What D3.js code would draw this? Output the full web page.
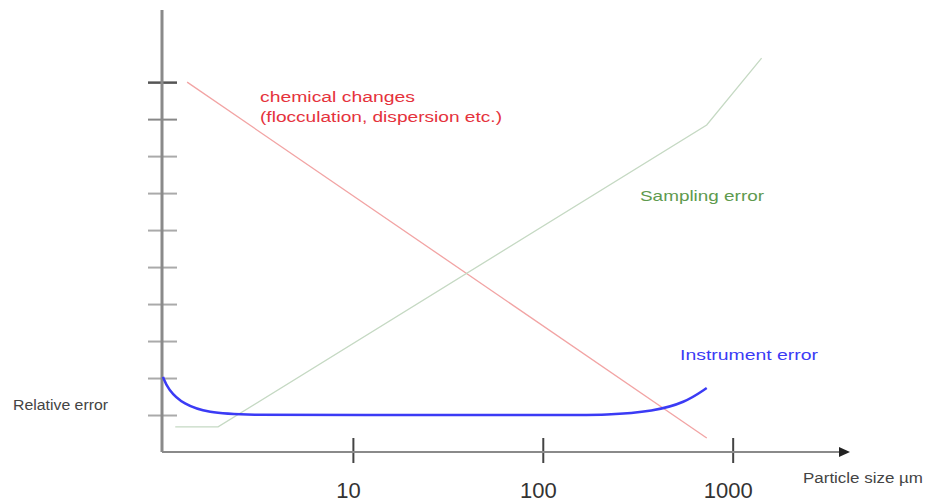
<!DOCTYPE html>
<html>
<head>
<meta charset="utf-8">
<script src="https://cdn.jsdelivr.net/npm/d3@7"></script>
<style>
  body { margin: 0; background: #fff; }
  text { font-family: "Liberation Sans", Arial, sans-serif; }
</style>
</head>
<body>
<svg id="chart"></svg>
<script>
// particle size (µm, log axis) / relative error (arbitrary units)
const xTicks = [10, 100, 1000];
const yTicks = [1, 2, 3, 4, 5, 6, 7, 8, 9, 10];

const chemicalX = [1.34, 730];
const chemicalY = [10, 0.38];

const samplingX = [1.16, 1.95, 730, 1420];
const samplingY = [0.68, 0.68, 8.84, 10.65];

const instrumentX = [1, 1.06, 1.28, 1.75, 2.6, 10, 100, 230, 380, 560, 730];
const instrumentY = [2.03, 1.7, 1.28, 1.06, 1.0, 1.0, 1.0, 1.0, 1.1, 1.33, 1.73];

const toPoints = (xs, ys) => xs.map((x, i) => [x, ys[i]]);

const w = 926;
const h = 504;

const xScale = d3.scaleLog()
  .domain([1, 4000])
  .range([163, 847]);

const yScale = d3.scaleLinear()
  .domain([0, 11.95])
  .range([452, 10]);

const svg = d3.select("#chart")
  .attr("width", w)
  .attr("height", h);

// y axis
const yAxis = d3.axisLeft(yScale)
  .tickValues(yTicks)
  .tickSize(14)
  .tickFormat("");
const gy = svg.append("g")
  .attr("transform", "translate(162,0)")
  .call(yAxis);
gy.select(".domain").remove();
gy.selectAll(".tick line")
  .attr("x2", 15)
  .attr("x1", -14)
  .attr("stroke", (d) => d === 10 ? "#555" : (d === 9 ? "#888" : "#aaa"))
  .attr("stroke-width", (d) => d === 10 ? 2.5 : 2);
svg.append("line")
  .attr("x1", 162).attr("x2", 162)
  .attr("y1", yScale.range()[1]).attr("y2", yScale(0))
  .attr("stroke", "#8a8a8a")
  .attr("stroke-width", 3);

// x axis
const xAxis = d3.axisBottom(xScale)
  .tickValues(xTicks)
  .tickSize(11)
  .tickFormat(d3.format("d"));
const gx = svg.append("g")
  .attr("transform", "translate(0," + yScale(0) + ")")
  .call(xAxis);
gx.select(".domain").remove();
gx.selectAll(".tick line")
  .attr("y1", -14)
  .attr("stroke", "#444")
  .attr("stroke-width", 2);
gx.selectAll(".tick text")
  .attr("y", 46)
  .attr("dy", 0)
  .attr("dx", -5)
  .attr("fill", "#333")
  .style("font-size", "22px")
  .style("font-family", "'Liberation Sans', Arial, sans-serif");
svg.append("line")
  .attr("x1", 162).attr("x2", xScale.range()[1] - 6)
  .attr("y1", yScale(0)).attr("y2", yScale(0))
  .attr("stroke", "#8a8a8a")
  .attr("stroke-width", 2);
svg.append("path")
  .attr("d", `M${xScale.range()[1] + 3},${yScale(0)} l-11,-5 l0,10 z`)
  .attr("fill", "#222");

const line = d3.line()
  .x((d) => xScale(d[0]))
  .y((d) => yScale(d[1]));

svg.append("path")
  .attr("d", line(toPoints(chemicalX, chemicalY)))
  .attr("fill", "none")
  .attr("stroke", "#f2a4a4")
  .attr("stroke-width", 1.3);

svg.append("path")
  .attr("d", line(toPoints(samplingX, samplingY)))
  .attr("fill", "none")
  .attr("stroke", "#c5d9c3")
  .attr("stroke-width", 1.3);

svg.append("path")
  .attr("d", line.curve(d3.curveBasis)(toPoints(instrumentX, instrumentY)))
  .attr("fill", "none")
  .attr("stroke", "#3b3bf5")
  .attr("stroke-width", 2.5);

// labels
const label = (txt, x, y, size, len, color) => svg.append("text")
  .attr("x", x).attr("y", y)
  .attr("fill", color)
  .attr("textLength", len)
  .attr("lengthAdjust", "spacingAndGlyphs")
  .style("font-size", size + "px")
  .text(txt);

label("chemical changes", 260, 102, 14, 155, "#e5323c");
label("(flocculation, dispersion etc.)", 260, 122, 14, 242, "#e5323c");
label("Sampling error", 640, 201, 15, 124, "#5e9a4e");
label("Instrument error", 680, 360, 15, 138, "#3b3bf5");
label("Relative error", 13, 410, 14, 95, "#444");
label("Particle size µm", 803, 483, 14, 120, "#444");
</script>
</body>
</html>
